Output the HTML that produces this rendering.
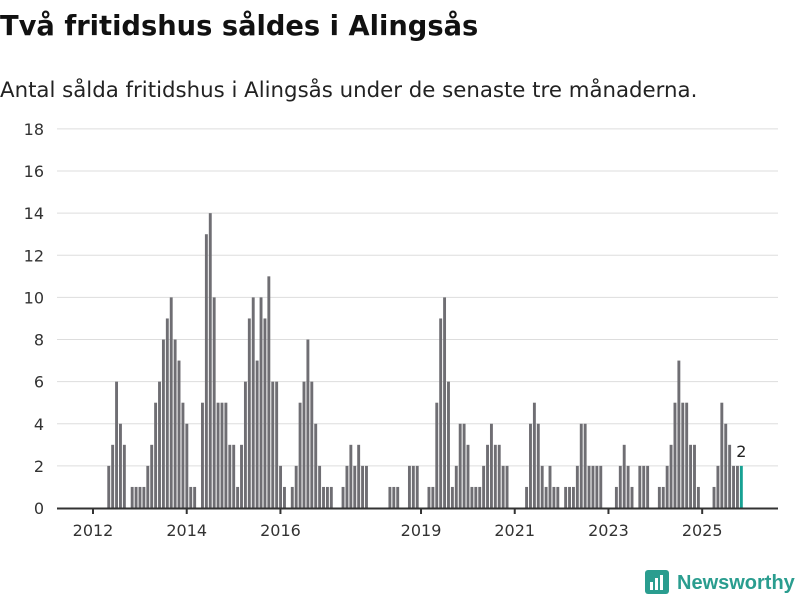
<!DOCTYPE html>
<html><head><meta charset="utf-8"><style>
body{margin:0;background:#fff;font-family:"Liberation Sans",sans-serif;}
svg text{font-family:"DejaVu Sans","Liberation Sans",sans-serif;}
</style></head><body>
<svg id="chart" width="800" height="600" viewBox="0 0 800 600" xmlns="http://www.w3.org/2000/svg">
<text x="0" y="35" font-size="27.3" font-weight="bold" fill="#111">Två fritidshus såldes i Alingsås</text>
<text x="0" y="97" font-size="21.3" fill="#222">Antal sålda fritidshus i Alingsås under de senaste tre månaderna.</text>
<g id="grid"></g>
<g id="ylabels"></g>
<g id="bars"></g>
<g id="xaxis"></g>
<g>
<rect x="645" y="570" width="24" height="24" rx="3" fill="#2a9d8f"/>
<rect x="650" y="582" width="3" height="8" fill="#fff"/><rect x="655" y="578" width="3" height="12" fill="#fff"/><rect x="660" y="575" width="3" height="15" fill="#fff"/>
<text x="677" y="589" font-size="20" font-weight="bold" fill="#2a9d8f" style="font-family:'Liberation Sans',sans-serif">Newsworthy</text>
</g>
</svg>
<script>
const values = [2,3,6,4,3,0,1,1,1,1,2,3,5,6,8,9,10,8,7,5,4,1,1,0,5,13,14,10,5,5,5,3,3,1,3,6,9,10,7,10,9,11,6,6,2,1,
0,1,2,5,6,8,6,4,2,1,1,1,0,0,1,2,3,2,3,2,2,0,0,0,0,0,1,1,1,0,0,2,2,2,0,0,1,1,5,9,10,6,1,2,4,4,3,1,1,1,2,3,4,3,3,2,2,0,0,0,0,
1,4,5,4,2,1,2,1,1,0,1,1,1,2,4,4,2,2,2,2,0,0,0,1,2,3,2,1,0,2,2,2,0,0,1,1,2,3,5,7,5,5,3,3,1,0,0,0,1,2,5,4,3,2,2,2];
const yTicks = [0,2,4,6,8,10,12,14,16,18];
const xTickYears = [2012,2014,2016,2019,2021,2023,2025];
const startOffset = 3.66; // months after Jan 2012 of first bar
const NS="http://www.w3.org/2000/svg";
const x0=93, pxMonth=3.905, yBase=508, pxUnit=21.06;
function xScale(m){return x0+pxMonth*m;}
function yScale(v){return yBase-pxUnit*v;}
const grid=document.getElementById('grid'), yl=document.getElementById('ylabels');
yTicks.forEach(t=>{
  const l=document.createElementNS(NS,'line');
  l.setAttribute('x1',57);l.setAttribute('x2',778);l.setAttribute('y1',yScale(t));l.setAttribute('y2',yScale(t));
  l.setAttribute('stroke','#ddd');l.setAttribute('stroke-width','1');
  
  
  grid.appendChild(l);
  const tx=document.createElementNS(NS,'text');
  tx.setAttribute('x',44);tx.setAttribute('y',yScale(t)+6);tx.setAttribute('text-anchor','end');
  tx.setAttribute('font-size','16');tx.setAttribute('fill','#333');tx.textContent=t;
  
  
  yl.appendChild(tx);
});
const bars=document.getElementById('bars');
values.forEach((v,i)=>{
  if(v<=0)return;
  const r=document.createElementNS(NS,'rect');
  const cx=xScale(startOffset+i);
  r.setAttribute('x',cx);r.setAttribute('width',2.9);
  r.setAttribute('y',yScale(v));r.setAttribute('height',yBase-yScale(v));
  r.setAttribute('fill',i===values.length-1?'#17a193':'#6f6e73');
  
  
  bars.appendChild(r);
});
const last=values.length-1;
const lab=document.createElementNS(NS,'text');
lab.setAttribute('x',xScale(startOffset+last)+1.5);lab.setAttribute('y',yScale(values[last])-9);
lab.setAttribute('text-anchor','middle');lab.setAttribute('font-size','16');lab.setAttribute('fill','#222');
lab.textContent=values[last];


bars.appendChild(lab);
const xa=document.getElementById('xaxis');
const base=document.createElementNS(NS,'line');
base.setAttribute('x1',57);base.setAttribute('x2',778);base.setAttribute('y1',508.5);base.setAttribute('y2',508.5);
base.setAttribute('stroke','#333');base.setAttribute('stroke-width','2');


xa.appendChild(base);
xTickYears.forEach(y=>{
  const x=xScale((y-2012)*12);
  const t=document.createElementNS(NS,'line');
  t.setAttribute('x1',x);t.setAttribute('x2',x);t.setAttribute('y1',508);t.setAttribute('y2',514);
  t.setAttribute('stroke','#333');t.setAttribute('stroke-width','2');
  
  
  xa.appendChild(t);
  const tx=document.createElementNS(NS,'text');
  tx.setAttribute('x',x);tx.setAttribute('y',536);tx.setAttribute('text-anchor','middle');
  tx.setAttribute('font-size','16');tx.setAttribute('fill','#333');tx.textContent=y;
  
  
  xa.appendChild(tx);
});
</script>
</body></html>
